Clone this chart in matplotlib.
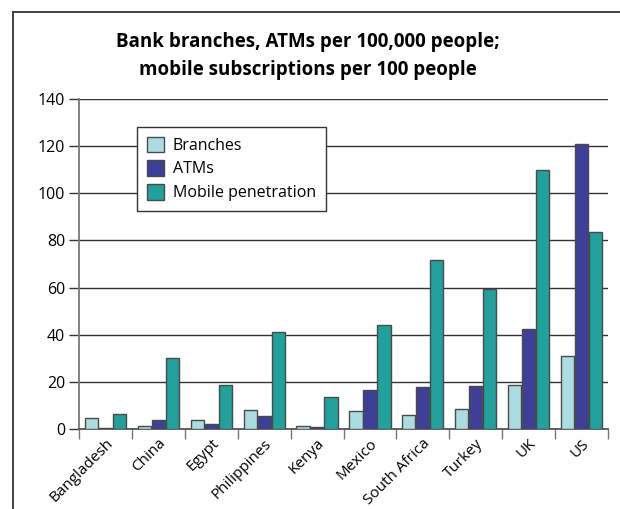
import matplotlib.pyplot as plt
import numpy as np
from matplotlib.lines import Line2D

countries = ['Bangladesh', 'China', 'Egypt', 'Philippines', 'Kenya', 'Mexico',
             'South Africa', 'Turkey', 'UK', 'US']
branches = [4.7, 1.4, 3.7, 7.9, 1.4, 7.8, 6.1, 8.5, 18.5, 31.1]
atms = [0.3, 4.0, 2.0, 5.4, 1.0, 16.7, 17.7, 18.1, 42.6, 121.1]
mobile = [6.5, 30.1, 18.5, 41.3, 13.6, 44.1, 71.7, 59.5, 109.9, 83.5]
yticks = [0, 20, 40, 60, 80, 100, 120, 140]

plt.rcParams['font.family'] = ['Open Sans', 'DejaVu Sans']

fig = plt.figure(figsize=(6.2, 5.09), dpi=100)
ax = fig.add_axes([79 / 620, 80 / 509, 529 / 620, 330 / 509])

x = np.arange(len(countries))
w = 0.25
off = 0.265
edge = '#4a4a4a'
ax.bar(x - off, branches, w, color='#abdde0', edgecolor=edge, linewidth=1, label='Branches', zorder=3)
ax.bar(x, atms, w, color='#3d3f98', edgecolor=edge, linewidth=1, label='ATMs', zorder=3)
ax.bar(x + off, mobile, w, color='#21a09c', edgecolor=edge, linewidth=1, label='Mobile penetration', zorder=3)

ax.set_xlim(-0.5, len(countries) - 0.5)
ax.set_ylim(0, 140)
ax.set_yticks(yticks)
ax.yaxis.grid(True, color='#333333', linewidth=1)
ax.set_axisbelow(True)
ax.tick_params(axis='y', length=7, width=1, color='#333333', labelsize=11.5, pad=3)

ax.set_xticks(x)
ax.set_xticklabels(countries, rotation=45, ha='right', rotation_mode='anchor', fontsize=11)
ax.tick_params(axis='x', which='major', length=0, pad=5)
ax.set_xticks(np.arange(-0.5, len(countries)), minor=True)
ax.tick_params(axis='x', which='minor', length=7, width=1, color='#777777')

for s in ['top', 'right']:
    ax.spines[s].set_visible(False)
ax.spines['left'].set_color('#777777')
ax.spines['bottom'].set_color('#555555')
ax.spines['left'].set_linewidth(1.3)
ax.spines['bottom'].set_linewidth(1.3)

leg = ax.legend(loc='upper left', bbox_to_anchor=((137 - 79) / 529, (429 - 127) / 330),
                borderaxespad=0, fancybox=False, framealpha=1, edgecolor='#333333',
                fontsize=11.5, handlelength=1.1, handleheight=1.1, handletextpad=0.55,
                labelspacing=0.42, borderpad=0.6)
leg.get_frame().set_linewidth(1)

fig.text(0.497, 1 - 56 / 509, 'Bank branches, ATMs per 100,000 people;\nmobile subscriptions per 100 people',
         ha='center', va='center', fontsize=13.5, fontweight='bold', linespacing=1.5)

# outer frame (top and left edges)
fig.add_artist(Line2D([13 / 620, 1], [1 - 12 / 509] * 2, color='#333333', linewidth=1.3))
fig.add_artist(Line2D([13 / 620] * 2, [0, 1 - 12 / 509], color='#333333', linewidth=1.3))

fig.savefig('out.png', dpi=100)
